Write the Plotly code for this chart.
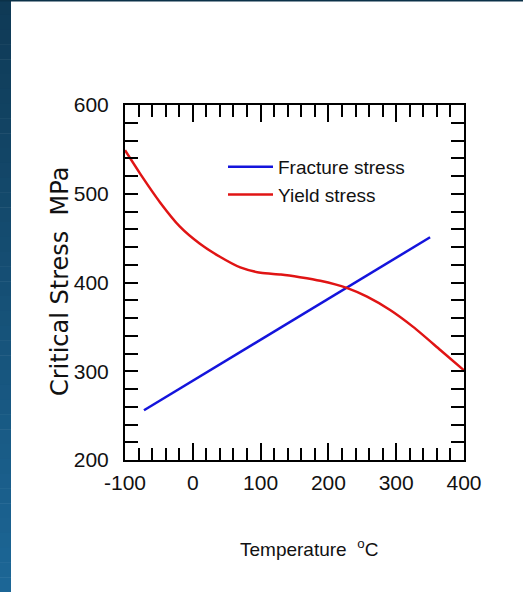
import plotly.graph_objects as go

# Fracture stress rises linearly with temperature
fracture_temp = [-72, 350]
fracture_stress = [256, 451]

# Yield stress falls with temperature, with a plateau near 100-200 °C
yield_temp = [-100, -78, -48, -19, 10, 40, 70, 100, 130, 158, 188, 227, 257, 291, 325, 365, 400]
yield_stress = [549, 523, 490, 463, 444, 429, 417, 411, 409, 406, 402, 394, 384, 369, 350, 324, 301]

x_ticks = [-100, 0, 100, 200, 300, 400]
x_tick_text = ["-100", "0", "100", "200", "300", "400"]
y_ticks = [200, 300, 400, 500, 600]

W, H = 523, 592
L, R, T, B = 125, 59, 105, 132
PW, PH = W - L - R, H - T - B


def px_x(p):
    return (p - L) / PW


def px_y(p):
    return (H - B - p) / PH


fig = go.Figure()
fig.add_trace(go.Scatter(x=fracture_temp, y=fracture_stress, mode="lines",
                         name="Fracture stress",
                         line=dict(color="#1414dc", width=2.5)))
fig.add_trace(go.Scatter(x=yield_temp, y=yield_stress, mode="lines",
                         name="Yield stress",
                         line=dict(color="#e01414", width=2.5, shape="spline", smoothing=0.7)))

# slide-style dark blue frame on the left and top edge
shapes = []
n = 40
c0 = (15, 58, 86)
c1 = (28, 102, 150)
for i in range(n):
    t = i / (n - 1)
    c = tuple(int(round(a + (b - a) * t)) for a, b in zip(c0, c1))
    y0 = i * H / n
    y1 = (i + 1) * H / n + 0.5
    shapes.append(dict(type="rect", xref="paper", yref="paper",
                       x0=px_x(0), x1=px_x(11), y0=px_y(y1), y1=px_y(y0),
                       fillcolor="rgb(%d,%d,%d)" % c, line=dict(width=0), layer="below"))
shapes.append(dict(type="rect", xref="paper", yref="paper",
                   x0=px_x(0), x1=px_x(W), y0=px_y(1.5), y1=px_y(0),
                   fillcolor="#0b3148", line=dict(width=0), layer="below"))

sans = "Liberation Sans, Arial"
tick_font = dict(family=sans, size=21, color="#111")

fig.update_layout(
    width=W, height=H,
    margin=dict(l=L, r=R, t=T, b=B, autoexpand=False),
    paper_bgcolor="white", plot_bgcolor="white",
    showlegend=True,
    legend=dict(x=px_x(223), y=px_y(148), xanchor="left", yanchor="top",
                bgcolor="rgba(0,0,0,0)", itemwidth=45, tracegroupgap=0,
                font=dict(family=sans, size=19, color="#111")),
    shapes=shapes,
    annotations=[
        dict(text="Temperature  <sup>o</sup>C", xref="paper", yref="paper",
             x=px_x(309), y=px_y(548), xanchor="center", yanchor="middle",
             showarrow=False, font=dict(family=sans, size=19, color="#111")),
        dict(text="Critical Stress  MPa", xref="paper", yref="paper", textangle=-90,
             x=px_x(60), y=px_y(282), xanchor="center", yanchor="middle",
             showarrow=False, font=dict(family="DejaVu Sans", size=24, color="#111")),
    ],
    xaxis=dict(range=[-100, 400], tickvals=x_ticks, ticktext=x_tick_text,
               ticks="inside", ticklen=17,
               tickwidth=2, tickcolor="black", showline=True, linewidth=2,
               linecolor="black", mirror="allticks", showgrid=False, zeroline=False,
               tickfont=tick_font, ticklabelstandoff=3,
               minor=dict(dtick=20, ticks="inside", ticklen=12, tickwidth=2,
                          tickcolor="black", showgrid=False)),
    yaxis=dict(range=[200, 600], tickvals=y_ticks, ticks="inside", ticklen=13,
               tickwidth=2, tickcolor="black", showline=True, linewidth=2,
               linecolor="black", mirror="allticks", showgrid=False, zeroline=False,
               tickfont=tick_font, ticklabelstandoff=10,
               minor=dict(dtick=20, ticks="inside", ticklen=13, tickwidth=2,
                          tickcolor="black", showgrid=False)),
)

fig.write_html("out.html")
